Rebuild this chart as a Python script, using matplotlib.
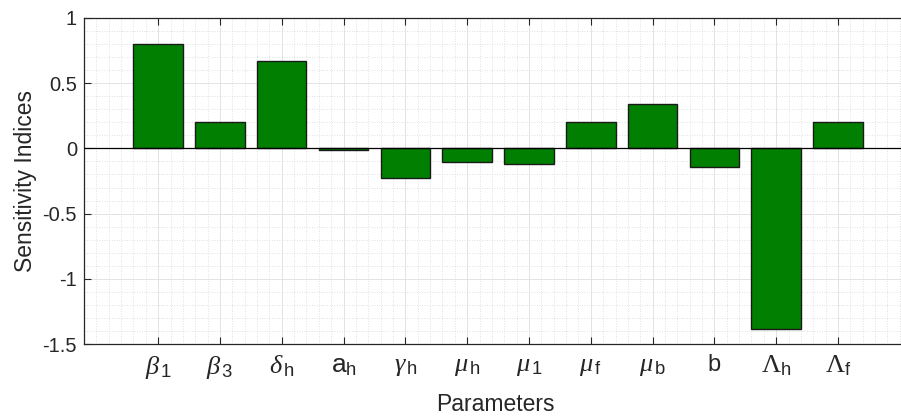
import matplotlib

matplotlib.use("Agg")
import matplotlib.pyplot as plt
from matplotlib.ticker import MultipleLocator

plt.rcParams["font.family"] = "Liberation Sans"
plt.rcParams["mathtext.fontset"] = "custom"
plt.rcParams["mathtext.rm"] = "Liberation Serif"
plt.rcParams["mathtext.it"] = "Liberation Serif:italic"
plt.rcParams["mathtext.sf"] = "Liberation Sans"

# sensitivity indices per parameter
params = [r"$\beta_{\,\mathsf{1}}$", r"$\beta_{\,\mathsf{3}}$",
          r"$\delta_{\,\mathsf{h}}$", r"$\mathsf{a}_{\mathsf{h}}$",
          r"$\gamma_{\,\mathsf{h}}$", r"$\mu_{\,\mathsf{h}}$",
          r"$\mu_{\,\mathsf{1}}$", r"$\mu_{\,\mathsf{f}}$",
          r"$\mu_{\,\mathsf{b}}$", "b",
          r"$\Lambda_{\mathsf{h}}$", r"$\Lambda_{\mathsf{f}}$"]
indices = [0.80, 0.20, 0.67, -0.015, -0.225, -0.103, -0.123, 0.20, 0.34,
           -0.141, -1.388, 0.20]

GREEN = "#007f00"
DARK = "#262626"

fig = plt.figure(figsize=(9.01, 4.19), dpi=100)
ax = fig.add_axes([84 / 901, 75 / 419, (906 - 84) / 901, 326 / 419])

xs = list(range(1, len(params) + 1))
ax.bar(xs, indices, 0.8, color=GREEN, edgecolor="#1a1a1a", linewidth=1.0,
       zorder=3)
ax.axhline(0, color="black", lw=0.9, zorder=4)

ax.set_xlim(-0.2, 13.1)
ax.set_ylim(-1.5, 1)
ax.set_xticks(xs)
ax.set_xticklabels(params, fontsize=19)
for lab in ax.get_xticklabels():
    if lab.get_text() == "b":
        lab.set_fontsize(17)
ax.set_yticks([-1.5, -1, -0.5, 0, 0.5, 1])
ax.set_yticklabels(["-1.5", "-1", "-0.5", "0", "0.5", "1"], fontsize=14.5)
ax.xaxis.set_minor_locator(MultipleLocator(0.2))
ax.yaxis.set_minor_locator(MultipleLocator(0.1))

ax.grid(which="major", color="#dedede", lw=0.6, zorder=0)
ax.grid(which="minor", color="#d6d6d6", lw=0.6, ls=(0, (1, 2)), zorder=0)
ax.set_axisbelow(True)

ax.tick_params(which="major", direction="in", length=5, width=0.8,
               color=DARK, labelcolor=DARK, top=True, right=False)
ax.tick_params(which="minor", length=0)
ax.tick_params(axis="x", pad=7)
ax.tick_params(axis="y", pad=5)
for side in ("left", "bottom", "top"):
    ax.spines[side].set_color(DARK)
    ax.spines[side].set_linewidth(0.9)
ax.spines["right"].set_visible(False)

ax.set_ylabel("Sensitivity Indices", fontsize=16.5, color=DARK, labelpad=4)
ax.set_xlabel("Parameters", fontsize=16.5, color=DARK, labelpad=9)

fig.savefig("out.png", dpi=100)
